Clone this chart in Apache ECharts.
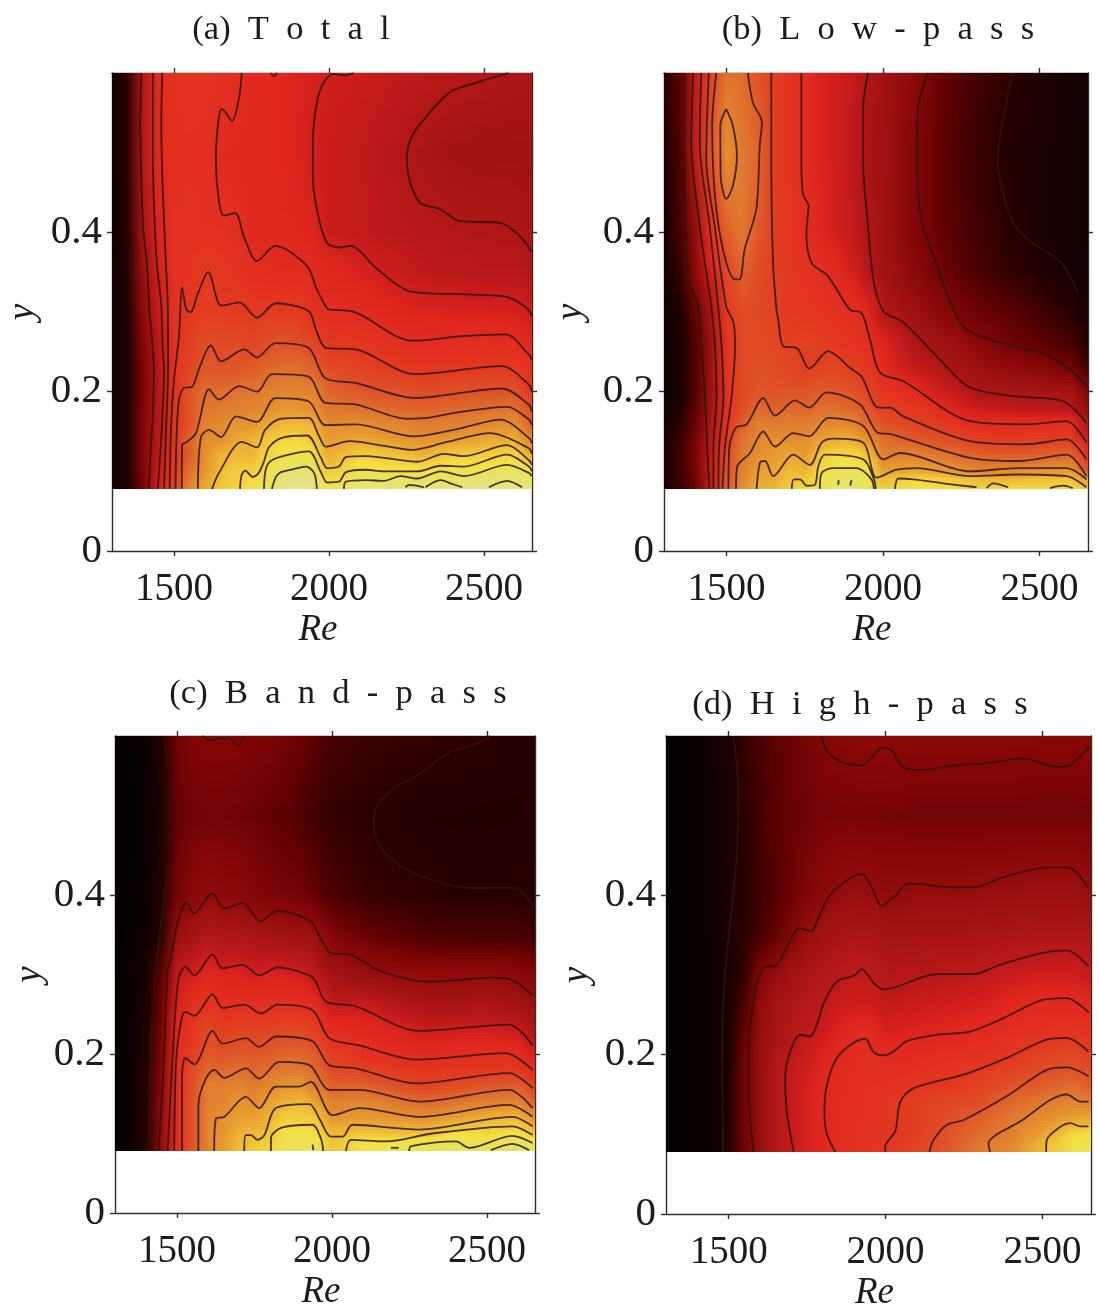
<!DOCTYPE html>
<html><head><meta charset="utf-8">
<style>html,body{margin:0;padding:0;background:#fff}#c{width:1099px;height:1311px}</style>
<script src="https://cdn.jsdelivr.net/npm/echarts@6/dist/echarts.min.js"></script>
</head><body><div id="c"></div>
<script>
const reGrid=[1300,1350,1400,1450,1500,1550,1600,1650,1700,1750,1800,1850,1900,1950,2000,2100,2200,2300,2400,2500,2600,2655];
const yGrid=[.078,.09,.10,.12,.14,.16,.18,.20,.23,.26,.30,.35,.40,.50,.60];
const xTicks=[1500,2000,2500];
const yTicks=[0,.2,.4];
const colorLevels=[0,10,20,30,42,48,52,55,58,63,68,74,80,86,91,95,100];
const colorHex=['#050000','#2a0000','#5a0000','#850606','#a41414','#ba1818','#d01e1c','#e0261e','#e22c20','#e2381f','#df5228','#e07a30','#e89a30','#f0c038','#f5e040','#e8e45a','#e4e2a0'];

const fieldA=[
[3,6,28,52,65,76,82,87,89,91,94,98,99,98,92,97,97,98,98,98,98,97],
[3,6,28,51,63,74,81,86,88.5,90,93,97,98,97,90,96,96,95,96,97,97,95],
[3,6,29,50,62,72,79,85,88,88,93,96,97,96,87,93,92,92,94,93,96,93],
[3,6,29,49,61,69,78,84,85,84,89,92.5,93,91,83,88.5,87,84,88,88,90,82],
[3,6,30,48,60,71,77,78,82,84,87,89,89.5,87,80,82,80,78,80,82,83,75],
[3,6,30,47,60,67,76,77,79,78.5,82,85,85,84,77,78,76,74.5,75,76.5,78,70],
[3,6,29,47,60,68,73,74,75,76,77.5,79,79,78,73,72.5,71,70,71,72,73,66],
[3,6,28,46,60,68,72,72,73,73.5,75,76,76,76,71,68.5,68,67,67.5,68,68,62],
[3,6,28,47,60,65,69,68,68.5,69,71,72,72,70,66.5,65,63.5,62,62.5,63,62.5,59],
[3,6,30,48,60,64,67,66.5,66.5,65.5,67,68,67.5,66,62.5,62,60,57.5,58.5,59,58.5,56],
[3,7,33,50,60,62.5,64,64,63.5,63,63.5,63.5,63.5,60,58.5,57.5,55.5,54,53.5,53,53,51],
[3,8,38,52,60,61,63,62,61,59,58.5,58,58.5,57,56,53.5,51,49,48,47.5,47.5,46],
[3,9,42,54,60,60.5,60,60,59,57,56.5,56,55,54,51,49.5,48,47,46,45.5,45,43],
[3,10,46,56,59.5,59.5,59,57.5,57,56.5,56,55,54,52,51,49,47,44,42,41,41,41],
[3,10,46,56,60,61,61,60,59,57,56,55,54,53,52,51,49.5,48,47,46,44.5,44]];
const fieldB=[
[5,12,24,50,70,78,83,85,88,90,93,96,97,95,88,92,91,89,90,89,90,86],
[5,13,25,50,68,76,82,82,87,87,91,95,96,94,85,90,88,85,84,86,86,80],
[5,14,26,50,67,75,80,82,85,84,90,94,94.5,93,81,82,80,76,77,78,80,68],
[5,14,27,50,66,74,78,80,82,80,87,90,90,87,75,75.5,73,70,69.5,70,71,60],
[5,13,26,47,63,73,76.5,78,77,77,81,83,83,78,72,69,67,64,63,64,64,52],
[4,10,23,44,62,69.5,75,74,75,74.5,76,77,76,72,68,65,62,58,57.5,58,58.5,45],
[3,7,20,42,60,67,71,70,71,70.5,72,72,71,68,64,62.5,55.5,51,49,48,47,36],
[2,5,18,40,60,66,68.5,68,68,68,69.5,69,68,65.5,62,57,51,45,44,43,42,30],
[2,5,18,40,61,66,67.5,67,65.5,64,65,65.5,64,62,57,50,45,39,35,32,26,15],
[2,5,18,40,61,66,67,66,64,65,64,62.5,61,59,55,44,40,33,26,22,16,8],
[3,6,22,44,63,67,66,65,63,62,61,60,59,56,47,39,31,24,20,15,9,6],
[4,12,33,52,66,70,67,64,62,60.5,59,57,53,47,42,33,24,17,12,8,5,4],
[4,16,35,60,70,74,69,64,61,58.5,55,52,49,45,41,30,21,15,10,6,4,3],
[6,18,50,68,78,74,71,64,61,58,54,52,49,44,40,30,20,13,8,6,4,3],
[10,20,49,65,73,72,68,64,61,57.5,54,52,49,45,41,33,22,15,11,7,5,4]];
const fieldC=[
[0,2,10,34,58,68,76,80,85,88,90,94,95,94,87,92,94,95,95,95,97,95],
[0,2,9,33,58,68,76,80,85,86,88,93,94,93,86,92,92,92,95,92,96,93],
[0,2,9,33,58,68,76,79,84,85,87,92,92.5,90,85,87,86,87,91,90,92,87],
[0,2,9,33,58,68,76,78,81,81,84,88,88,87,79,80,79,78,81,84,85,78],
[0,2,9,32,58,68,75,76,79,77,81,84,85,81,75,76,74,71,73,75,76,70],
[0,2,9,31,58,67,75,75,76,74,77,79,79,75,70,70.5,67.5,65,67,68,70,63],
[0,1,9,30,58,66,71,71,72,71,72.5,74,74,71,66,65,63,61,62,63,63,57],
[0,1,8,28,58,64,69,68,69,68.5,69.5,71,71,69,64,60,58,57,58,59,58,52],
[0,1,7,26,56,61,66,63.5,65,65,65,66,66,63.5,58,57,54.5,51,51.5,52,50,45],
[0,1,6,24,53,60,62,60,60.5,60,60.5,61,60,58,50,51,47,44,44,44.5,42,38],
[0,1,4,20,50,52,56,54,54,52,54,53,52,48,42,38,36,35,34.5,35,33,30],
[0,0,3,10,38,42,46,44,45,43,42,41,40,38,30,24,20,17,16,16,16,14],
[0,0,2,8,26,32,35,33,33,30,28,27,26,22,17,13,12,11,9.5,9.5,10,9],
[0,0,1,6,22,25,26,26,25,24,22,20,18,14,12,10.5,9,8,8,8,8,9],
[0,0,2,8,25,29,30,30,30,28,28,26,24,20,16,14,13,12,11,10,9,9]];
const fieldD=[
[0,0,1,2,8,25,37,46,50,53,55.5,58,59.5,61,62,65,69,74,77,85,93,95],
[0,0,1,2,8,25,37,46,50,53,55.5,58,59.5,60.5,61.5,65,68,73.5,76,84,91,93],
[0,0,1,2,8,25,37,46,50,53,55.5,58,59.5,60.5,61,64,68,72,75,81,89,91],
[0,0,1,2,7,25,37,46,50,53,55.5,58,59.5,60.5,61,64,67,70,74,77,81,82],
[0,0,1,2,7,25,37,46,50,53,55.5,58,59,60.5,61,64,65.5,67,71,74,76,75],
[0,0,1,2,7,25,37,46,50,53,55.5,57.5,59,60,60,62,63,65,68,70,72,70],
[0,0,1,2,6,25,37,46,49.5,52,55,57,58.5,59.5,59,59.5,61,63,65,67,68.5,67],
[0,0,1,2,6,24,37,45,48,51,54,56,58,59,57,58,59,60,62,65,66,64],
[0,0,1,2,6,22,36,43,46,48.5,51,54,56.5,57,53,54,55.5,57,59,60,61,60],
[0,0,1,2,6,18,35,42,45,47,49,51,52,52,50,51,52,53,56,57.5,57.5,56],
[0,0,1,2,6,12,30,37,41,44,46,47.5,49,49,46,47,48,49,51,52,52,50],
[0,0,1,2,6,10,16,22,30,37,41,43,44,44,42,42.5,42.5,43,44,45,45,44],
[0,0,1,3,6,9,14,19,24,29,33,36,38,37,35,36,36,37,38,39,39,37],
[0,0,1,3,6,10,15,20,23,25,26.5,27,27,27,27,26,26,26,26,26,26,26],
[0,0,1,3,7,12,17,21,24,27,30,31,32,33,33,32,32,32,32,31.5,31.5,32]];

const contoursA=[
[[1395,.60],[1391,.534],[1393,.492],[1400,.408],[1413,.36],[1420,.305],[1435,.228],[1432,.17],[1425,.13],[1419,.078]],
[[1432,.60],[1432,.492],[1438,.408],[1445,.36],[1459,.307],[1464,.25],[1468,.228],[1460,.15],[1448,.078]],
[[1462,.60],[1459,.534],[1464,.45],[1474,.36],[1480,.307],[1481,.228],[1474,.15],[1468,.078]],
[[2579,.60],[2477,.588],[2391,.576],[2316,.546],[2268,.521],[2251,.492],[2262,.463],[2294,.437],[2359,.429],[2423,.414],[2552,.412],[2617,.395],[2655,.375]],
[[2079,.60],[2052,.597],[2015,.599],[1983,.588],[1961,.563],[1948,.513],[1948,.471],[1961,.429],[1993,.387],[2036,.381],[2069,.383],[2155,.354],[2262,.326],[2445,.322],[2574,.319],[2638,.305],[2655,.295]],
[[1719,.60],[1709,.567],[1687,.540],[1655,.555],[1644,.542],[1635,.492],[1644,.442],[1660,.421],[1698,.424],[1725,.395],[1768,.364],[1827,.383],[1929,.358],[1961,.328],[1993,.305],[2004,.303],[2074,.301],[2268,.264],[2440,.270],[2569,.272],[2644,.247],[2655,.24]],
[[1812,.60],[1822,.596],[1832,.60]],
[[1486,.078],[1490,.15],[1500,.215],[1516,.269],[1526,.331],[1540,.303],[1555,.30],[1574,.32],[1610,.35],[1642,.312],[1655,.308],[1710,.312],[1768,.293],[1829,.311],[1935,.301],[1958,.278],[1990,.255],[2087,.253],[2278,.222],[2558,.232],[2644,.209],[2655,.20]],
[[1505,.078],[1508,.14],[1516,.19],[1532,.205],[1558,.206],[1580,.228],[1619,.258],[1652,.238],[1726,.253],[1768,.243],[1827,.261],[1934,.255],[1988,.217],[2085,.211],[2278,.192],[2558,.204],[2644,.184],[2655,.175]],
[[1525,.078],[1526,.133],[1542,.137],[1571,.148],[1613,.203],[1645,.19],[1710,.207],[1768,.20],[1816,.222],[1934,.219],[1988,.186],[2085,.184],[2252,.166],[2317,.167],[2414,.174],[2575,.181],[2645,.165],[2655,.158]],
[[1577,.078],[1587,.143],[1613,.152],[1652,.143],[1700,.169],[1768,.162],[1827,.192],[1934,.188],[1988,.158],[2085,.159],[2274,.144],[2424,.154],[2553,.165],[2645,.142],[2655,.135]],
[[1623,.078],[1645,.098],[1719,.137],[1768,.13],[1794,.152],[1845,.166],[1935,.167],[1967,.145],[1990,.131],[2065,.138],[2194,.131],[2268,.127],[2381,.137],[2521,.148],[2645,.129],[2655,.122]],
[[1713,.078],[1718,.095],[1730,.101],[1754,.093],[1773,.098],[1790,.112],[1806,.130],[1848,.142],[1929,.145],[1974,.117],[1994,.104],[2032,.106],[2055,.118],[2119,.119],[2177,.117],[2285,.112],[2371,.122],[2435,.119],[2575,.133],[2645,.114],[2655,.108]],
[[1790,.078],[1797,.104],[1816,.114],[1871,.121],[1935,.125],[1974,.099],[1994,.086],[2032,.087],[2055,.099],[2119,.102],[2177,.100],[2285,.100],[2360,.107],[2435,.106],[2575,.121],[2645,.106],[2655,.10]],
[[1816,.078],[1829,.093],[1845,.099],[1877,.102],[1926,.106],[1952,.098],[1961,.078]],
[[2048,.078],[2055,.087],[2119,.089],[2177,.088],[2231,.094],[2285,.091],[2360,.100],[2435,.094],[2575,.108],[2645,.098],[2655,.094]],
[[2311,.080],[2360,.089],[2392,.085],[2430,.080]],
[[2247,.080],[2258,.083],[2306,.080]],
[[2516,.080],[2575,.088],[2623,.080]]];

const contoursB=[
[[1366,.60],[1366,.492],[1377,.345],[1409,.307],[1420,.257],[1431,.194],[1438,.131],[1445,.078]],
[[1393,.60],[1387,.513],[1414,.408],[1451,.307],[1463,.257],[1468,.194],[1458,.131],[1458,.078]],
[[1419,.60],[1414,.513],[1446,.408],[1473,.307],[1484,.257],[1490,.194],[1476,.131],[1474,.078]],
[[1443,.60],[1435,.492],[1462,.408],[1499,.307],[1522,.287],[1527,.257],[1516,.194],[1495,.131],[1487,.078]],
[[1467,.60],[1454,.534],[1462,.450],[1488,.379],[1526,.341],[1542,.341],[1558,.379],[1595,.429],[1606,.509],[1613,.538],[1584,.563],[1568,.60]],
[[1499,.555],[1480,.534],[1481,.471],[1499,.442],[1520,.458],[1533,.496],[1520,.534],[1499,.555]],
[[1506,.078],[1509,.131],[1530,.155],[1564,.159],[1617,.192],[1655,.170],[1719,.189],[1764,.180],[1820,.199],[1926,.184],[1985,.148],[2022,.147],[2065,.142],[2278,.117],[2437,.113],[2587,.121],[2650,.094]],
[[1530,.078],[1534,.106],[1575,.123],[1617,.150],[1655,.131],[1713,.148],[1764,.144],[1825,.167],[1937,.157],[2001,.115],[2054,.123],[2278,.100],[2427,.104],[2587,.104],[2650,.090]],
[[1596,.078],[1607,.111],[1623,.113],[1649,.094],[1713,.121],[1766,.108],[1804,.136],[1841,.141],[1937,.136],[1979,.092],[2043,.102],[2107,.104],[2278,.094],[2427,.096],[2587,.094],[2650,.080]],
[[1708,.078],[1715,.090],[1735,.090],[1756,.082],[1782,.083],[1793,.106],[1814,.121],[1937,.115],[1971,.090],[1977,.078]],
[[1798,.078],[1804,.098],[1841,.104],[1916,.104],[1963,.090],[1971,.078]],
[[1857,.083],[1858,.089]],
[[1895,.082],[1899,.089]],
[[2038,.078],[2049,.091],[2097,.090],[2192,.085],[2299,.080]],
[[2331,.079],[2352,.085],[2400,.080]],
[[2533,.079],[2576,.082],[2606,.079]],
[[1643,.60],[1643,.492],[1648,.366],[1659,.305],[1665,.291],[1681,.257],[1724,.255],[1764,.229],[1825,.251],[1894,.230],[1931,.219],[1985,.180],[2022,.180],[2065,.169],[2278,.138],[2459,.134],[2587,.140],[2650,.115]],
[[1739,.60],[1739,.492],[1744,.448],[1762,.433],[1755,.400],[1771,.362],[1824,.345],[1894,.303],[1931,.299],[1958,.266],[1990,.224],[2065,.213],[2278,.163],[2459,.159],[2587,.163],[2650,.136]],
[[1952,.60],[1936,.555],[1936,.492],[1952,.408],[1969,.341],[2001,.301],[2065,.287],[2192,.236],[2278,.205],[2427,.194],[2576,.188],[2650,.161]],
[[2143,.60],[2112,.555],[2108,.492],[2122,.416],[2165,.366],[2223,.305],[2267,.278],[2363,.263],[2533,.245],[2608,.224],[2650,.207]],
[[2415,.60],[2367,.492],[2410,.416],[2463,.391],[2569,.362],[2623,.324]]];

const contoursC=[
[[2510,.60],[2469,.591],[2372,.578],[2286,.553],[2200,.534],[2141,.509],[2135,.488],[2157,.459],[2232,.434],[2340,.417],[2436,.409],[2587,.409],[2651,.385]],
[[1458,.597],[1476,.543],[1474,.446],[1453,.379],[1431,.300],[1416,.211],[1411,.078]],
[[1582,.60],[1614,.594],[1630,.597],[1668,.597],[1695,.588],[1716,.60]],
[[1441,.078],[1459,.20],[1469,.300],[1480,.321],[1496,.354],[1512,.379],[1531,.390],[1555,.377],[1614,.402],[1652,.383],[1711,.390],[1770,.367],[1824,.380],[1931,.367],[1963,.346],[1996,.327],[2060,.325],[2146,.306],[2260,.293],[2324,.291],[2518,.296],[2582,.293],[2647,.274]],
[[1470,.078],[1488,.211],[1505,.295],[1527,.310],[1556,.299],[1615,.325],[1647,.308],[1712,.312],[1765,.299],[1825,.309],[1927,.299],[1948,.291],[1980,.266],[2077,.260],[2281,.229],[2572,.237],[2647,.211]],
[[1491,.078],[1497,.190],[1513,.241],[1527,.253],[1556,.248],[1615,.275],[1647,.258],[1717,.262],[1771,.251],[1825,.262],[1937,.255],[1991,.220],[2088,.211],[2271,.193],[2561,.201],[2647,.180]],
[[1516,.078],[1516,.169],[1527,.195],[1556,.187],[1615,.229],[1647,.213],[1722,.220],[1765,.209],[1819,.222],[1937,.216],[1991,.186],[2077,.182],[2271,.163],[2572,.176],[2647,.157]],
[[1569,.078],[1569,.136],[1593,.169],[1620,.180],[1653,.170],[1722,.182],[1765,.169],[1830,.190],[1927,.186],[1991,.155],[2088,.155],[2281,.140],[2572,.155],[2647,.132]],
[[1620,.078],[1626,.119],[1653,.121],[1722,.146],[1765,.132],[1819,.159],[1894,.159],[1932,.165],[2002,.123],[2088,.132],[2281,.121],[2572,.136],[2647,.121]],
[[1717,.078],[1722,.098],[1739,.098],[1760,.092],[1782,.098],[1819,.132],[1927,.137],[1959,.119],[1997,.096],[2034,.096],[2066,.111],[2281,.105],[2582,.121],[2647,.109]],
[[1803,.078],[1803,.094],[1835,.107],[1937,.111],[1964,.094],[1972,.078]],
[[2045,.078],[2061,.092],[2174,.090],[2324,.100],[2582,.109],[2647,.098]],
[[2249,.078],[2255,.084],[2400,.090],[2443,.082],[2582,.097],[2647,.088]],
[[2513,.079],[2582,.087],[2636,.079]],
[[2190,.082],[2215,.082]],
[[1937,.086],[1940,.079]]];

const contoursD=[
[[1796,.60],[1812,.582],[1860,.567],[1924,.563],[1956,.573],[1987,.585],[2019,.582],[2057,.561],[2104,.557],[2221,.563],[2328,.566],[2434,.572],[2551,.561],[2593,.565],[2652,.588]],
[[1515,.60],[1531,.531],[1525,.447],[1504,.364],[1488,.301],[1479,.213],[1482,.078]],
[[2646,.410],[2583,.435],[2519,.435],[2370,.422],[2285,.410],[2221,.410],[2073,.415],[2030,.399],[1987,.387],[1956,.410],[1924,.427],[1828,.403],[1786,.372],[1764,.355],[1727,.359],[1674,.326],[1647,.311],[1617,.311],[1590,.288],[1564,.213],[1564,.150],[1579,.078]],
[[2647,.311],[2578,.331],[2504,.328],[2366,.313],[2281,.301],[2164,.301],[2026,.284],[1994,.282],[1962,.290],[1925,.307],[1898,.299],[1845,.292],[1803,.265],[1781,.238],[1760,.223],[1728,.225],[1696,.204],[1680,.171],[1685,.129],[1707,.078]],
[[2647,.253],[2578,.271],[2504,.269],[2366,.244],[2270,.229],[2164,.225],[2068,.217],[2026,.204],[1994,.199],[1962,.203],[1935,.220],[1898,.215],[1845,.196],[1813,.162],[1805,.129],[1813,.100],[1840,.078]],
[[2647,.204],[2578,.221],[2514,.219],[2387,.196],[2249,.175],[2090,.158],[2047,.141],[2031,.104],[1999,.085],[1999,.078]],
[[2647,.173],[2578,.184],[2514,.181],[2387,.148],[2249,.118],[2196,.112],[2153,.093],[2140,.078]],
[[2647,.141],[2621,.141],[2578,.150],[2525,.143],[2429,.116],[2355,.100],[2328,.089],[2333,.078]],
[[2647,.110],[2621,.110],[2589,.114],[2552,.108],[2514,.093],[2512,.078]]];

const fields=[fieldA,fieldB,fieldC,fieldD];
const contours=[contoursA,contoursB,contoursC,contoursD];
const titles=['(a)  T  o  t  a  l','(b)  L  o  w  -  p  a  s  s','(c)  B  a  n  d  -  p  a  s  s','(d)  H  i  g  h  -  p  a  s  s'];
const titlePos=[[286,7],[873,7],[333,671],[855,682]];
const yNameGaps=[70,74,66,70];
const frames=[{left:112,top:73,width:420,height:478},{left:664,top:73,width:424,height:478},{left:115,top:736,width:420,height:477},{left:666,top:736,width:425,height:478}];

const FONT='"Liberation Serif","Times New Roman",serif';
const rgb=colorHex.map(h=>[parseInt(h.slice(1,3),16),parseInt(h.slice(3,5),16),parseInt(h.slice(5,7),16)]);
function cmap(v){
  v=Math.max(0,Math.min(100,v));
  let i=0; while(i<colorLevels.length-2&&v>colorLevels[i+1])i++;
  const t=(v-colorLevels[i])/(colorLevels[i+1]-colorLevels[i]);
  const a=rgb[i],b=rgb[i+1];
  return 'rgb('+Math.round(a[0]+(b[0]-a[0])*t)+','+Math.round(a[1]+(b[1]-a[1])*t)+','+Math.round(a[2]+(b[2]-a[2])*t)+')';
}
function renderCell(params,api){
  const r0=api.value(0),r1=api.value(1),y0=api.value(2),y1=api.value(3);
  const v00=api.value(4),v10=api.value(5),v01=api.value(6),v11=api.value(7);
  const p0=api.coord([r0,y0]),p1=api.coord([r1,y1]);
  const xa=Math.round(p0[0]),xb=Math.round(p1[0]),yb=Math.round(p0[1]),yt=Math.round(p1[1]);
  const children=[];
  const step=3;
  for(let py=yt;py<yb;py+=step){
    const h=Math.min(step,yb-py);
    const t=(yb-(py+h/2))/(yb-yt);
    const vl=v00+(v01-v00)*t,vr=v10+(v11-v10)*t;
    children.push({type:'rect',shape:{x:xa,y:py,width:xb-xa,height:h},
      style:{fill:new echarts.graphic.LinearGradient(0,0,1,0,[{offset:0,color:cmap(vl)},{offset:1,color:cmap(vr)}])},silent:true});
  }
  return {type:'group',children};
}
function cellData(f){
  const d=[];
  for(let j=0;j<yGrid.length-1;j++)for(let i=0;i<reGrid.length-1;i++)
    d.push([reGrid[i],reGrid[i+1],yGrid[j],yGrid[j+1],f[j][i],f[j][i+1],f[j+1][i],f[j+1][i+1]]);
  return d;
}
const axisStyle={lineStyle:{color:'#2e2e2e',width:1.4}};
const option={animation:false,backgroundColor:'#fff',title:[],grid:[],xAxis:[],yAxis:[],series:[]};
frames.forEach((fr,k)=>{
  option.title.push({text:titles[k],left:titlePos[k][0],top:titlePos[k][1],textAlign:'center',
    textStyle:{fontFamily:FONT,fontSize:34.5,fontWeight:'normal',color:'#1c1c1c'}});
  option.grid.push(Object.assign({containLabel:false,outerBoundsMode:'none'},fr));
  const xb={type:'value',gridIndex:k,min:1300,max:2655,position:'bottom',splitLine:{show:false},
    axisLine:Object.assign({onZero:false},axisStyle),
    axisTick:{show:true,length:5,lineStyle:{color:'#2e2e2e',width:1.4},customValues:xTicks},
    axisLabel:{show:true,customValues:xTicks,margin:19,fontFamily:FONT,fontSize:39,color:'#1c1c1c',formatter:v=>String(v)},
    name:'Re',nameLocation:'middle',nameGap:61,nameTextStyle:{fontFamily:FONT,fontSize:37,fontStyle:'italic',color:'#1c1c1c',padding:[0,8,0,0]}};
  const xt={type:'value',gridIndex:k,min:1300,max:2655,position:'top',splitLine:{show:false},
    axisLine:Object.assign({onZero:false},axisStyle),
    axisTick:{show:true,length:5,lineStyle:{color:'#2e2e2e',width:1.4},customValues:xTicks},axisLabel:{show:false}};
  const yl={type:'value',gridIndex:k,min:0,max:.6,position:'left',splitLine:{show:false},
    axisLine:Object.assign({onZero:false},axisStyle),
    axisTick:{show:true,length:5,lineStyle:{color:'#2e2e2e',width:1.4},customValues:yTicks},
    axisLabel:{show:true,customValues:yTicks,margin:10,padding:[4,0,0,0],fontFamily:FONT,fontSize:41,color:'#1c1c1c',formatter:v=>v===0?'0':v.toFixed(1)},
    name:'y',nameLocation:'middle',nameGap:yNameGaps[k],nameRotate:90,nameTextStyle:{fontFamily:FONT,fontSize:37,fontStyle:'italic',color:'#1c1c1c'}};
  const yr={type:'value',gridIndex:k,min:0,max:.6,position:'right',splitLine:{show:false},
    axisLine:Object.assign({onZero:false},axisStyle),
    axisTick:{show:true,length:5,lineStyle:{color:'#2e2e2e',width:1.4},customValues:yTicks},axisLabel:{show:false}};
  option.xAxis.push(xb,xt);
  option.yAxis.push(yl,yr);
  const xi=k*2,yi=k*2;
  option.series.push({type:'custom',xAxisIndex:xi,yAxisIndex:yi,data:cellData(fields[k]),renderItem:renderCell,
    encode:{x:[0,1],y:[2,3]},clip:true,silent:true,progressive:0,z:1});
  contours[k].forEach(c=>{
    option.series.push({type:'line',xAxisIndex:xi,yAxisIndex:yi,data:c,showSymbol:false,symbol:'none',smooth:.3,clip:true,
      silent:true,z:2,lineStyle:{color:'#2a160c',width:1.8,opacity:.85},emphasis:{disabled:true}});
  });
});
const chart=echarts.init(document.getElementById('c'),null,{renderer:'canvas',width:1099,height:1311});
chart.setOption(option);
</script></body></html>
